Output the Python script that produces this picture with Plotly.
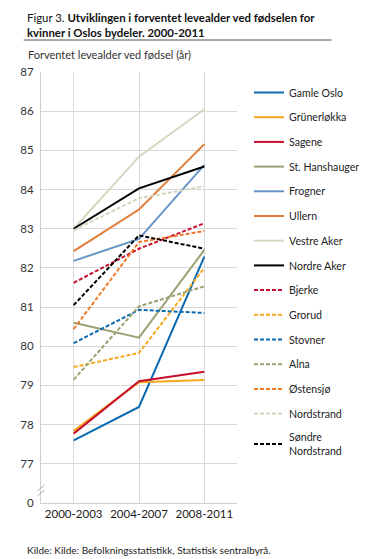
import plotly.graph_objects as go

periods = ["2000-2003", "2004-2007", "2008-2011"]
names = ["Gamle Oslo", "Grünerløkka", "Sagene", "St. Hanshaugen", "Frogner", "Ullern",
         "Vestre Aker", "Nordre Aker", "Bjerke", "Grorud", "Stovner", "Alna",
         "Østensjø", "Nordstrand", "Søndre<br>Nordstrand"]
gamle_oslo = [77.60, 78.45, 82.29]
grunerlokka = [77.84, 79.08, 79.14]
sagene = [77.77, 79.11, 79.35]
st_hanshaugen = [80.60, 80.22, 82.46]
frogner = [82.18, 82.74, 84.63]
ullern = [82.43, 83.49, 85.16]
vestre_aker = [83.00, 84.84, 86.05]
nordre_aker = [83.00, 84.03, 84.59]
bjerke = [81.62, 82.49, 83.14]
grorud = [79.47, 79.83, 82.00]
stovner = [80.08, 80.93, 80.85]
alna = [79.15, 81.02, 81.53]
ostensjo = [80.44, 82.66, 82.94]
nordstrand = [82.96, 83.78, 84.08]
sondre_nordstrand = [81.05, 82.83, 82.49]
series = [gamle_oslo, grunerlokka, sagene, st_hanshaugen, frogner, ullern, vestre_aker,
          nordre_aker, bjerke, grorud, stovner, alna, ostensjo, nordstrand, sondre_nordstrand]
colors = ["#0a6ab0", "#f5a81c", "#c8102e", "#9aa173", "#6896c8", "#e27b36", "#d6d6c0",
          "#000000", "#c8102e", "#f5a81c", "#0a6ab0", "#9aa173", "#f07a2a", "#d6d6c0", "#000000"]
dashed = [False] * 8 + [True] * 7
tickvals = list(range(76, 88))
ticktext = ["0"] + [str(v) for v in range(77, 88)]

W, H = 367, 559
L, R, T, B = 20, 121, 64, 64
pw, ph = W - L - R, H - T - B

def px_x(p):
    return (p - L) / pw

def px_y(p):
    return (H - B - p) / ph

fig = go.Figure()
for nm, vals, c, d in zip(names, series, colors, dashed):
    fig.add_trace(go.Scatter(
        x=periods, y=vals, mode="lines", name=nm, legendgroup=nm,
        line=dict(color=c, width=2, dash="4px,2px" if d else "solid"),
        hoverinfo="skip"))

font = "Lato, Open Sans, sans-serif"
fig.update_layout(
    width=W, height=H,
    margin=dict(l=L, r=R, t=T, b=B),
    paper_bgcolor="white", plot_bgcolor="white",
    font=dict(family=font, size=11, color="#333333"),
    showlegend=True,
    legend=dict(xref="container", yref="container", x=241 / W, y=1 - 70 / H,
                xanchor="left", yanchor="top", font=dict(size=10.6, color="#222222"),
                tracegroupgap=5.7, itemwidth=30, bgcolor="rgba(0,0,0,0)", maxheight=540),
    xaxis=dict(type="category", range=[-0.5, 2.5], showgrid=True, gridcolor="#d9d9d9",
               gridwidth=1, showline=True, linecolor="#d0d0d0", linewidth=1,
               ticks="", ticklen=0, tickfont=dict(size=11.5, color="#222222"), zeroline=False),
    yaxis=dict(range=[76, 87], tickvals=tickvals, ticktext=ticktext, showgrid=True,
               gridcolor="#d9d9d9", gridwidth=1, showline=True, linecolor="#d0d0d0",
               linewidth=1, ticks="", ticklen=0, ticklabelstandoff=4,
               tickfont=dict(size=11.5, color="#333333"), zeroline=False),
)

anns = [
    dict(text="Figur 3. <b>Utviklingen i forventet levealder ved fødselen for</b><br><b>kvinner i Oslos bydeler. 2000-2011</b>",
         x=px_x(2), y=px_y(1), xanchor="left", yanchor="top", align="left",
         font=dict(size=11.4, color="#111111")),
    dict(text="Forventet levealder ved fødsel (år)", x=px_x(3), y=px_y(46),
         xanchor="left", yanchor="middle", font=dict(size=11, color="#333333")),
    dict(text="Kilde: Kilde: Befolkningsstatistikk, Statistisk sentralbyrå.", x=px_x(2), y=px_y(542),
         xanchor="left", yanchor="middle", font=dict(size=10, color="#222222")),
]
for a in anns:
    a.update(xref="paper", yref="paper", showarrow=False)
fig.update_layout(annotations=anns)

shapes = [
    dict(type="line", xref="paper", yref="paper", x0=px_x(0), x1=px_x(355), y0=px_y(32), y1=px_y(32),
         line=dict(color="#555555", width=1)),
    dict(type="line", xref="paper", yref="paper", x0=px_x(0), x1=px_x(355), y0=px_y(557), y1=px_y(557),
         line=dict(color="#555555", width=1)),
    dict(type="line", xref="paper", yref="paper", x0=px_x(16), x1=px_x(24), y0=px_y(483), y1=px_y(477),
         line=dict(color="#b0b0b0", width=1)),
    dict(type="line", xref="paper", yref="paper", x0=px_x(16), x1=px_x(24), y0=px_y(488), y1=px_y(482),
         line=dict(color="#b0b0b0", width=1)),
]
fig.update_layout(shapes=shapes)

fig.write_html("out.html")
